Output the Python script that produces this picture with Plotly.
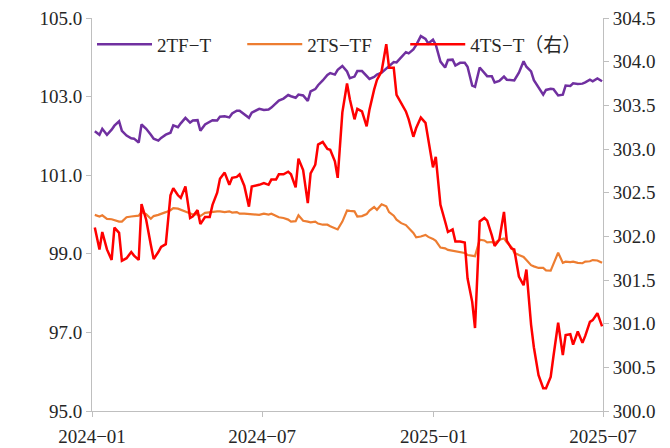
import pandas as pd
import plotly.graph_objects as go

PURPLE = "#7030A0"
ORANGE = "#ED7D31"
RED = "#FF0000"
AXIS_GRAY = "#BFBFBF"
FONT = "Liberation Serif"
LEGEND_FONT = "Liberation Serif, Noto Sans CJK SC"

# tanggal: setiap 3 hari bursa, berakhir 2025-06-30
dates = pd.bdate_range(end="2025-06-30", periods=130, freq="3B")

tf_t = [
    102.12, 102.03, 102.18, 102.03, 102.16, 102.26, 102.37, 102.13, 102.01, 101.94,
    101.93, 101.83, 102.29, 102.18, 102.03, 101.93, 101.88, 101.95, 102.03, 102.08,
    102.27, 102.22, 102.32, 102.46, 102.34, 102.39, 102.40, 102.13, 102.29, 102.35,
    102.40, 102.39, 102.49, 102.50, 102.47, 102.57, 102.64, 102.64, 102.55, 102.46,
    102.59, 102.64, 102.69, 102.66, 102.67, 102.72, 102.82, 102.90, 102.95, 103.04,
    103.01, 102.97, 103.05, 103.03, 102.89, 103.13, 103.19, 103.29, 103.41, 103.55,
    103.60, 103.56, 103.68, 103.78, 103.64, 103.47, 103.51, 103.65, 103.65, 103.52,
    103.45, 103.50, 103.56, 103.61, 103.71, 103.79, 103.88, 103.87, 103.99, 104.13,
    104.10, 104.20, 104.31, 104.54, 104.47, 104.35, 104.45, 104.32, 103.89, 103.74,
    103.93, 103.94, 103.79, 103.86, 103.86, 103.76, 103.28, 103.25, 103.74, 103.60,
    103.52, 103.52, 103.36, 103.40, 103.51, 103.43, 103.42, 103.41, 103.61, 103.90,
    103.76, 103.64, 103.42, 103.25, 103.05, 103.17, 103.20, 103.19, 103.03, 103.05,
    103.28, 103.27, 103.34, 103.32, 103.33, 103.36, 103.43, 103.39, 103.46, 103.39,
]

ts_tf = [
    99.99, 99.95, 99.98, 99.89, 99.88, 99.85, 99.82, 99.82, 99.93, 99.95,
    99.96, 99.97, 100.06, 100.01, 99.89, 99.96, 99.99, 100.01, 100.06, 100.11,
    100.16, 100.15, 100.12, 100.08, 100.04, 100.00, 100.00, 99.96, 100.04, 100.06,
    100.07, 100.08, 100.08, 100.06, 100.08, 100.05, 100.06, 100.02, 100.02, 100.01,
    99.99, 99.99, 99.99, 100.02, 100.00, 100.02, 99.97, 99.93, 99.91, 99.87,
    99.82, 99.83, 99.98, 99.84, 99.82, 99.80, 99.82, 99.77, 99.74, 99.74,
    99.70, 99.65, 99.62, 99.82, 100.10, 100.09, 100.08, 99.95, 99.96, 100.01,
    100.10, 100.19, 100.12, 100.26, 100.21, 100.06, 99.97, 99.87, 99.78, 99.73,
    99.66, 99.53, 99.42, 99.44, 99.48, 99.43, 99.38, 99.33, 99.16, 99.14,
    99.10, 99.08, 99.06, 99.04, 99.02, 98.97, 98.96, 98.94, 99.36, 99.34,
    99.29, 99.30, 99.27, 99.36, 99.39, 99.29, 99.17, 99.03, 98.97, 98.92,
    98.84, 98.71, 98.68, 98.64, 98.64, 98.58, 98.57, 98.75, 99.03, 98.77,
    98.80, 98.79, 98.80, 98.77, 98.76, 98.80, 98.81, 98.84, 98.83, 98.77,
]

ts_t_4 = [
    302.10, 301.85, 302.05, 301.85, 301.73, 302.10, 302.04, 301.72, 301.75, 301.82,
    301.78, 301.73, 302.37, 302.19, 301.90, 301.74, 301.82, 301.88, 301.91, 302.47,
    302.55, 302.47, 302.44, 302.57, 302.21, 302.23, 302.30, 302.14, 302.22, 302.22,
    302.36, 302.50, 302.66, 302.73, 302.59, 302.67, 302.68, 302.71, 302.58, 302.34,
    302.57, 302.58, 302.59, 302.61, 302.59, 302.65, 302.65, 302.71, 302.71, 302.74,
    302.71, 302.56, 302.89, 302.76, 302.38, 302.72, 302.82, 303.05, 303.08, 303.00,
    302.99, 302.86, 302.67, 303.42, 303.75, 303.57, 303.34, 303.46, 303.43, 303.26,
    303.45, 303.68, 303.79, 303.89, 304.20, 303.93, 303.93, 303.62, 303.53, 303.43,
    303.34, 303.14, 303.24, 303.36, 303.30, 303.11, 302.79, 302.91, 302.36, 302.17,
    302.05, 302.08, 301.94, 301.94, 301.93, 301.52, 301.25, 300.95, 302.17, 302.21,
    302.18, 302.01, 301.89, 301.96, 302.28, 301.95, 301.86, 301.85, 301.54, 301.44,
    301.62, 300.99, 300.73, 300.41, 300.26, 300.26, 300.39, 300.63, 301.01, 300.64,
    300.87, 300.88, 300.76, 300.91, 300.78, 300.86, 301.02, 301.04, 301.12, 300.97,
]

x_tickvals = ["2024-01-01", "2024-07-01", "2025-01-01", "2025-07-01"]
x_ticktext = ["2024\u221201", "2024\u221207", "2025\u221201", "2025\u221207"]


def plot_spreads():
    fig = go.Figure()
    fig.add_trace(go.Scatter(
        x=dates, y=tf_t, mode="lines", name="2TF\u2212T",
        line=dict(color=PURPLE, width=2.5), legend="legend"
    ))
    fig.add_trace(go.Scatter(
        x=dates, y=ts_tf, mode="lines", name="2TS\u2212TF",
        line=dict(color=ORANGE, width=2.2), legend="legend2"
    ))
    fig.add_trace(go.Scatter(
        x=dates, y=ts_t_4, mode="lines", name="4TS\u2212T\uff08\u53f3\uff09",
        line=dict(color=RED, width=2.5), yaxis="y2", legend="legend3"
    ))

    axis_common = dict(
        showgrid=False, zeroline=False, automargin=False,
        showline=True, linecolor=AXIS_GRAY, linewidth=1,
        ticks="outside", ticklen=5, tickcolor=AXIS_GRAY,
        ticklabeloverflow="allow",
        tickfont=dict(family=FONT, size=19, color="#262626"),
    )
    # satu legend per seri supaya jaraknya bisa diatur sendiri
    legend_common = dict(
        orientation="h", y=0.933, yanchor="middle",
        bgcolor="rgba(0,0,0,0)", itemwidth=55,
        font=dict(family=LEGEND_FONT, size=19, color="#262626"),
    )
    # halaman html punya margin body 8px, jadi margin figure dikurangi 8px
    fig.update_layout(
        width=670, height=448,
        margin=dict(l=84, r=75, t=10, b=45),
        plot_bgcolor="white", paper_bgcolor="white",
        font=dict(family=FONT, size=19, color="#262626"),
        xaxis=dict(
            range=["2024-01-01", "2025-07-01"],
            tickvals=x_tickvals, ticktext=x_ticktext,
            ticklabelstandoff=3,
            **axis_common
        ),
        yaxis=dict(range=[95, 105], tick0=95, dtick=2, tickformat=".1f", **axis_common),
        yaxis2=dict(
            range=[300, 304.5], tick0=300, dtick=0.5, tickformat=".1f",
            overlaying="y", side="right", **axis_common
        ),
        legend=dict(x=0.0, **legend_common),
        legend2=dict(x=0.294, **legend_common),
        legend3=dict(x=0.613, **legend_common),
        showlegend=True,
    )
    return fig


fig = plot_spreads()
fig.write_html("out.html")
